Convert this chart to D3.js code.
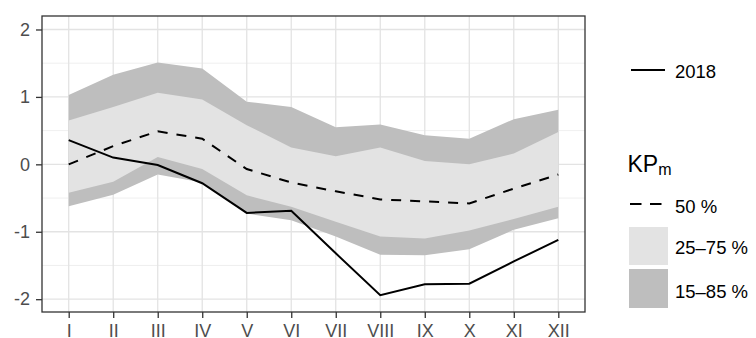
<!DOCTYPE html>
<html><head><meta charset="utf-8">
<script src="https://cdn.jsdelivr.net/npm/d3@7"></script>
<style>body{margin:0;background:#fff}svg{display:block}text{font-family:"Liberation Sans",Arial,sans-serif}</style>
</head><body>
<svg id="c" width="756" height="338"></svg>
<script>
const months = ["I","II","III","IV","V","VI","VII","VIII","IX","X","XI","XII"];
const y2018 = [0.36, 0.10, -0.01, -0.28, -0.72, -0.69, -1.32, -1.94, -1.78, -1.77, -1.44, -1.12];
const q50 = [0.00, 0.27, 0.49, 0.38, -0.07, -0.27, -0.40, -0.52, -0.55, -0.58, -0.36, -0.15];
const q25 = [-0.42, -0.26, 0.11, -0.07, -0.46, -0.63, -0.85, -1.07, -1.10, -0.98, -0.81, -0.63];
const q75 = [0.65, 0.85, 1.06, 0.96, 0.58, 0.25, 0.12, 0.25, 0.05, 0.00, 0.16, 0.48];
const q15 = [-0.62, -0.45, -0.15, -0.27, -0.73, -0.83, -1.07, -1.34, -1.35, -1.26, -0.97, -0.80];
const q85 = [1.03, 1.33, 1.51, 1.42, 0.93, 0.85, 0.55, 0.59, 0.43, 0.38, 0.67, 0.81];
const yTicks = [-2, -1, 0, 1, 2];
const yMinor = [-1.5, -0.5, 0.5, 1.5];
const legendLabels = {line: "2018", title: "KP", sub: "m", median: "50 %", inner: "25\u201375 %", outer: "15\u201385 %"};

const svg = d3.select("#c");
const L = 42, R = 585, T = 16, B = 312;
const x = d3.scalePoint().domain(months).range([L, R]).padding(0.6);
const y = d3.scaleLinear().domain([-2.19, 2.2]).range([B, T]);

const rows = months.map((m, i) => ({m, a: y2018[i], md: q50[i], l25: q25[i], h75: q75[i], l15: q15[i], h85: q85[i]}));

// grid
const g = svg.append("g");
g.selectAll(".mn").data(yMinor).join("line")
  .attr("x1", L).attr("x2", R).attr("y1", d => y(d)).attr("y2", d => y(d))
  .attr("stroke", "#ebebeb").attr("stroke-width", 0.8);
g.selectAll(".mj").data(yTicks).join("line")
  .attr("x1", L).attr("x2", R).attr("y1", d => y(d)).attr("y2", d => y(d))
  .attr("stroke", "#e3e3e3").attr("stroke-width", 1.3);
g.selectAll(".vx").data(months).join("line")
  .attr("x1", d => x(d)).attr("x2", d => x(d)).attr("y1", T).attr("y2", B)
  .attr("stroke", "#e3e3e3").attr("stroke-width", 1.3);

// bands
const outer = d3.area().x(d => x(d.m)).y0(d => y(d.l15)).y1(d => y(d.h85));
const inner = d3.area().x(d => x(d.m)).y0(d => y(d.l25)).y1(d => y(d.h75));
svg.append("path").datum(rows).attr("d", outer).attr("fill", "#bebebe");
svg.append("path").datum(rows).attr("d", inner).attr("fill", "#e3e3e3");

// lines
svg.append("path").datum(rows)
  .attr("d", d3.line().x(d => x(d.m)).y(d => y(d.md)))
  .attr("fill", "none").attr("stroke", "#000").attr("stroke-width", 2).attr("stroke-dasharray", "10,9");
svg.append("path").datum(rows)
  .attr("d", d3.line().x(d => x(d.m)).y(d => y(d.a)))
  .attr("fill", "none").attr("stroke", "#000").attr("stroke-width", 2);

// panel border
svg.append("rect").attr("x", L).attr("y", T).attr("width", R - L).attr("height", B - T)
  .attr("fill", "none").attr("stroke", "#333").attr("stroke-width", 1.3);

// axes
const yAx = svg.append("g").attr("transform", `translate(${L},0)`)
  .call(d3.axisLeft(y).tickValues(yTicks).tickFormat(d3.format("d")).tickSize(6).tickPadding(6));
const xAx = svg.append("g").attr("transform", `translate(0,${B})`)
  .call(d3.axisBottom(x).tickSize(6).tickPadding(4));
[yAx, xAx].forEach(a => {
  a.select(".domain").remove();
  a.selectAll(".tick line").attr("stroke", "#333").attr("stroke-width", 1.3);
  a.selectAll(".tick text").attr("fill", "#4d4d4d").style("font-size", "18px")
    .style("font-family", '"Liberation Sans", Arial, sans-serif');
});
yAx.selectAll(".tick text").text(d => d < 0 ? "-" + Math.abs(d) : d);
xAx.selectAll(".tick text").attr("dy", null).attr("y", 25);

// legend
const lg = svg.append("g");
const fs = "18.5px";
lg.append("line").attr("x1", 631).attr("x2", 665).attr("y1", 70).attr("y2", 70).attr("stroke", "#000").attr("stroke-width", 2);
lg.append("text").attr("x", 675).attr("y", 77.5).style("font-size", fs).text(legendLabels.line);
const tt = lg.append("text").attr("x", 627.5).attr("y", 172).style("font-size", "23px");
tt.append("tspan").text(legendLabels.title);
tt.append("tspan").attr("dy", 3).style("font-size", "16px").text(legendLabels.sub);
lg.append("line").attr("x1", 630).attr("x2", 664).attr("y1", 204).attr("y2", 204).attr("stroke", "#000").attr("stroke-width", 2).attr("stroke-dasharray", "11.5,8.5");
lg.append("text").attr("x", 675).attr("y", 212.5).style("font-size", fs).text(legendLabels.median);
lg.append("rect").attr("x", 629).attr("y", 227).attr("width", 39).attr("height", 38).attr("fill", "#e3e3e3");
lg.append("text").attr("x", 675).attr("y", 254).style("font-size", fs).text(legendLabels.inner);
lg.append("rect").attr("x", 629).attr("y", 269).attr("width", 39).attr("height", 39).attr("fill", "#bebebe");
lg.append("text").attr("x", 675).attr("y", 297.5).style("font-size", fs).text(legendLabels.outer);
</script>
</body></html>
